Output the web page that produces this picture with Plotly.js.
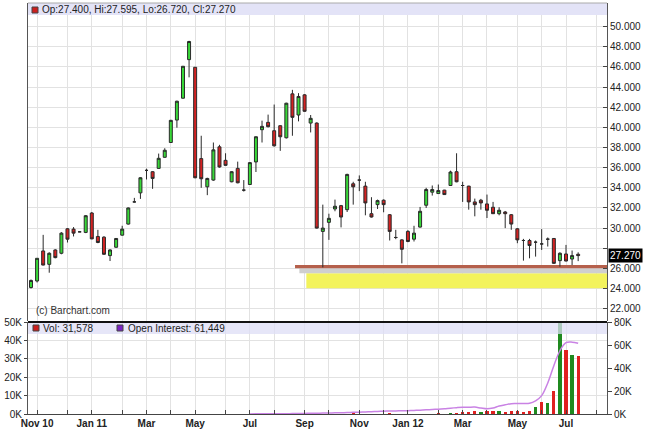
<!DOCTYPE html>
<html><head><meta charset="utf-8">
<script src="https://cdn.plot.ly/plotly-3.0.1.min.js"></script>
<style>html,body{margin:0;padding:0;background:#fff;}#chart{width:645px;height:431px;}</style>
</head><body><div id="chart"></div>
<script>
const dates = [
'2010-10-25','2010-11-01','2010-11-08','2010-11-15','2010-11-22','2010-11-29','2010-12-06','2010-12-13','2010-12-20','2010-12-27',
'2011-01-03','2011-01-10','2011-01-17','2011-01-24','2011-01-31','2011-02-07','2011-02-14','2011-02-21','2011-02-28','2011-03-07',
'2011-03-14','2011-03-21','2011-03-28','2011-04-04','2011-04-11','2011-04-18','2011-04-25','2011-05-02','2011-05-09','2011-05-16',
'2011-05-23','2011-05-30','2011-06-06','2011-06-13','2011-06-20','2011-06-27','2011-07-04','2011-07-11','2011-07-18','2011-07-25',
'2011-08-01','2011-08-08','2011-08-15','2011-08-22','2011-08-29','2011-09-05','2011-09-12','2011-09-19','2011-09-26','2011-10-03',
'2011-10-10','2011-10-17','2011-10-24','2011-10-31','2011-11-07','2011-11-14','2011-11-21','2011-11-28','2011-12-05','2011-12-12',
'2011-12-19','2011-12-26','2012-01-02','2012-01-09','2012-01-16','2012-01-23','2012-01-30','2012-02-06','2012-02-13','2012-02-20',
'2012-02-27','2012-03-05','2012-03-12','2012-03-19','2012-03-26','2012-04-02','2012-04-09','2012-04-16','2012-04-23','2012-04-30',
'2012-05-07','2012-05-14','2012-05-21','2012-05-28','2012-06-04','2012-06-11','2012-06-18','2012-06-25','2012-07-02','2012-07-09',
'2012-07-16'];
const openP = [
24.1,24.75,27.73,26.4,27.83,27.5,29.93,29.9,29.63,29.57,
31.5,29.17,29.1,27.27,28.1,29.3,30.4,32.6,33.5,35.73,
35.6,35.93,37.03,38.5,40.73,42.9,46.73,45.97,36.9,34.1,
34.77,38.07,36.73,34.6,35.93,33.77,34.33,36.57,39.77,40.5,
39.67,40.17,38.97,43.33,41.23,43.23,40.43,40.43,29.67,30.57,
31.9,32.23,31.83,34.4,34.77,34.17,31.43,32.33,32.77,31.33,
29.07,28.83,29.67,28.9,30.1,32.27,33.57,33.43,33.77,34.23,
35.6,34.23,34.17,32.6,32.77,32.4,32.07,31.43,31.6,31.33,
29.93,28.77,28.77,28.6,28.43,28.9,28.97,26.77,27.43,26.93,
27.40];
const highP = [
24.9,27.0,29.33,27.6,27.9,29.6,30.0,30.1,29.7,31.3,
31.6,29.83,29.2,27.9,29.0,30.23,32.05,33.0,35.05,35.9,
35.65,37.4,37.93,40.75,42.65,46.1,48.6,46.0,39.17,35.0,
38.5,38.27,37.43,35.65,36.6,34.77,36.55,39.1,40.67,41.27,
42.27,40.2,42.45,43.73,43.4,43.3,41.23,40.5,32.33,31.43,
32.83,32.3,35.4,34.6,35.23,34.6,33.07,32.83,32.85,31.4,
29.83,28.9,29.8,30.23,32.1,34.0,34.23,34.33,33.8,35.7,
37.43,34.6,34.2,32.93,32.9,33.33,32.6,32.07,31.7,31.4,
30.0,28.93,28.93,28.77,29.9,29.07,29.0,27.6,28.33,27.77,
27.595];
const lowP = [
24.0,24.6,26.3,25.57,27.0,27.4,28.57,29.17,29.6,29.5,
28.9,28.5,27.35,26.73,28.05,29.25,30.35,32.55,32.9,34.83,
33.9,35.9,37.0,38.45,39.97,42.85,44.97,34.95,34.0,33.27,
34.7,36.0,36.2,34.55,34.45,33.63,34.3,35.57,38.5,40.0,
38.1,37.67,38.9,39.17,40.6,41.55,39.5,29.95,26.1,28.83,
31.67,30.07,31.6,32.33,33.67,31.27,31.05,31.9,31.57,28.77,
28.9,26.5,28.6,28.67,30.05,32.0,33.23,33.4,33.3,34.2,
34.55,32.6,31.83,31.17,31.83,31.0,31.4,31.27,30.0,29.83,
28.5,26.77,27.0,27.17,27.83,28.17,26.45,26.17,26.7,26.33,
26.72];
const closeP = [
24.8,27.0,26.33,27.5,27.07,29.5,28.9,29.5,29.63,31.23,
28.93,28.57,27.4,27.83,28.97,29.9,32.0,32.6,35.0,35.73,
34.93,36.93,37.73,40.7,42.6,46.07,48.53,35.0,34.9,34.93,
37.77,36.07,36.23,35.6,34.5,33.77,36.5,39.07,40.1,40.07,
38.17,39.07,42.4,41.0,43.07,41.6,40.9,30.0,30.0,30.97,
32.17,31.1,35.33,34.1,34.77,32.5,31.1,32.73,32.33,29.67,
29.07,27.9,28.67,29.5,31.67,33.83,33.83,33.73,33.33,35.57,
34.6,34.23,32.6,32.33,32.5,31.77,31.43,31.77,31.43,30.4,
28.83,28.77,28.27,28.6,28.43,28.9,26.5,27.5,26.73,27.27,
27.27];
const volume = [
0,0,0,0,0,0,0,0,0,0,
0,0,0,0,0,0,0,0,0,0,
0,0,0,0,0,0,0,0,0,0,
0,0,0,0,0,0,0,0,0,0,
0,0,0,0,0,0,0,0,0,0,
0,0,0,600,0,0,0,0,0,400,
0,0,0,0,0,0,0,500,0,600,
800,1000,1300,1800,1200,1500,1600,1800,1300,1800,
1500,1200,1500,4000,6700,6200,12500,58000,34900,31800,
31578];
const volUp = [
0,0,0,0,0,0,0,0,0,0,
0,0,0,0,0,0,0,0,0,0,
0,0,0,0,0,0,0,0,0,0,
0,0,0,0,0,0,0,0,0,0,
0,0,0,0,0,0,0,0,0,0,
0,0,0,0,0,0,0,0,0,0,
0,0,0,0,0,0,0,0,0,1,
0,0,0,0,1,0,0,1,0,0,
0,0,0,1,0,1,0,1,0,1,
0];
const openInterest = [
null,null,null,null,null,null,null,null,null,null,
null,null,null,null,null,null,null,null,null,null,
null,null,null,null,null,null,null,null,null,null,
null,null,null,null,null,null,100,120,150,180,
200,250,300,350,400,500,600,700,800,900,
1000,1100,1300,1500,1600,1800,2000,2200,2400,2600,
2700,2800,2900,3100,3300,3600,3900,4200,4600,5100,
5500,5800,5900,6000,5200,4500,5200,7000,8000,9000,
9100,9100,9300,11500,16000,27000,42000,55000,62000,62500,
61449];
const monthTicks = ['2010-11-01','2010-12-06','2011-01-03','2011-02-07','2011-03-07','2011-04-04','2011-05-02','2011-06-06','2011-07-04','2011-08-01','2011-09-05','2011-10-03','2011-11-07','2011-12-05','2012-01-02','2012-02-06','2012-03-05','2012-04-02','2012-05-07','2012-06-04','2012-07-02','2012-08-06'];
const monthLabels = ['Nov 10','','Jan 11','','Mar','','May','','Jul','','Sep','','Nov','','Jan 12','','Mar','','May','','Jul',''];
const priceTicks = [22,24,26,28,30,32,34,36,38,40,42,44,46,48,50];
const volTicks = [0,10000,20000,30000,40000,50000];
const oiTicks = [0,20000,40000,60000,80000];
const supportLevel = 26.17, supportStart = '2011-08-25';
const zoneTop = 25.51, zoneBottom = 24.02, zoneStart = '2011-09-07';

const W=645,H=431,L=28,R=38,T=3,B=17;
const PW=W-L-R, PH=H-T-B;
const px = x => (x-L)/PW, py = y => (H-B-y)/PH;
const FONT = 'Liberation Sans, Arial, sans-serif';
const last = dates.length-1;
const xEnd = '2012-08-18 05:00';
const fmtK = v => (v/1000)+'K';
const comma = v => v.toLocaleString('en-US');

const traces = [
 {type:'candlestick', x:dates, open:openP, high:highP, low:lowP, close:closeP,
  xaxis:'x', yaxis:'y', whiskerwidth:0, hoverinfo:'skip', showlegend:false,
  increasing:{line:{color:'#2a2a2a',width:1}, fillcolor:'#38d838'},
  decreasing:{line:{color:'#2a2a2a',width:1}, fillcolor:'#d42222'}},
 {type:'bar', x:dates, y:volume, xaxis:'x', yaxis:'y2', width:3.8*86400000,
  marker:{color:volUp.map(u=>u?'#1f8a1f':'#e02020'), line:{width:0}}, hoverinfo:'skip', showlegend:false},
 {type:'scatter', mode:'lines', x:dates, y:openInterest, xaxis:'x', yaxis:'y3',
  line:{color:'#c982e4', width:1.5, shape:'spline'}, hoverinfo:'skip', showlegend:false, connectgaps:false}
];

const layout = {
 width:W, height:H, margin:{l:L,r:R,t:T,b:B}, paper_bgcolor:'#fff', plot_bgcolor:'#fff',
 font:{family:FONT, size:10, color:'#222'}, showlegend:false, bargap:0,
 xaxis:{type:'date', range:['2010-10-21 13:00', xEnd], anchor:'y2',
   tickmode:'array', tickvals:monthTicks, ticktext:monthLabels,
   ticks:'inside', ticklen:4, tickcolor:'#444', showgrid:true, gridcolor:'#e2e2e2',
   showline:true, linecolor:'#444', linewidth:1, rangeslider:{visible:false},
   tickfont:{family:FONT,size:10,color:'#222',weight:'bold'}, fixedrange:true},
 yaxis:{domain:[(H-B-321)/PH,1], range:[20.775,52.353], side:'right', anchor:'x',
   tickmode:'array', tickvals:priceTicks, ticktext:priceTicks.map(v=>v===28?'':v.toFixed(3)),
   ticks:'inside', ticklen:4, tickcolor:'#444', showline:true, mirror:true, linecolor:'#555',
   gridcolor:'#e2e2e2', zeroline:false, tickfont:{family:FONT,size:10,color:'#222'}, fixedrange:true},
 yaxis2:{domain:[0,(H-B-322)/PH], range:[0,50000], side:'left', anchor:'x',
   tickmode:'array', tickvals:volTicks, ticktext:volTicks.map(fmtK),
   ticks:'outside', ticklen:3, tickcolor:'#444', showline:true, linecolor:'#555',
   gridcolor:'#e2e2e2', zeroline:false, tickfont:{family:FONT,size:10,color:'#222'}, fixedrange:true},
 yaxis3:{overlaying:'y2', range:[0,80000], side:'right', anchor:'x',
   tickmode:'array', tickvals:oiTicks, ticktext:oiTicks.map(fmtK),
   ticks:'outside', ticklen:4, tickcolor:'#444', showline:true, linecolor:'#555',
   showgrid:false, zeroline:false, tickfont:{family:FONT,size:10,color:'#222'}, fixedrange:true},
 shapes:[
  {type:'rect', xref:'paper', yref:'y domain', x0:0, x1:1, y0:1-12/318, y1:1, fillcolor:'#e3e3f7', line:{width:0}, layer:'above'},
  {type:'rect', xref:'x', yref:'y', x0:zoneStart, x1:xEnd, y0:zoneBottom, y1:zoneTop, fillcolor:'#f3f35c', line:{width:0}, layer:'between'},
  {type:'rect', xref:'x', yref:'y', x0:'2011-08-30', x1:xEnd, y0:zoneTop, y1:supportLevel-0.16, fillcolor:'#cfcfcf', line:{width:0}, layer:'between'},
  {type:'line', xref:'x', yref:'y', x0:supportStart, x1:xEnd, y0:supportLevel, y1:supportLevel, line:{color:'#b5604c', width:3.3}, layer:'between'},
  {type:'rect', xref:'paper', yref:'y2 domain', x0:0, x1:1, y0:1-12/92, y1:1, fillcolor:'rgba(222,222,246,0.75)', line:{width:0}, layer:'above'},
  {type:'line', xref:'paper', yref:'paper', x0:0, x1:1, y0:py(322), y1:py(322), line:{color:'#111', width:2}, layer:'above'},
  {type:'line', xref:'paper', yref:'paper', x0:0, x1:1, y0:1, y1:1, line:{color:'#aaa', width:1}, layer:'above'},
  {type:'rect', xref:'paper', yref:'paper', x0:px(32), x1:px(38), y0:py(13), y1:py(7), fillcolor:'#cc1f1f', line:{color:'#444', width:1}, layer:'above'},
  {type:'rect', xref:'paper', yref:'paper', x0:px(33), x1:px(39), y0:py(331), y1:py(325), fillcolor:'#cc1f1f', line:{color:'#444', width:1}, layer:'above'},
  {type:'rect', xref:'paper', yref:'paper', x0:px(117), x1:px(123), y0:py(331), y1:py(325), fillcolor:'#7a22c4', line:{color:'#444', width:1}, layer:'above'}
 ],
 annotations:[
  {xref:'paper', yref:'paper', x:px(40), y:py(9.5), xanchor:'left', yanchor:'middle', showarrow:false,
   text:'Op:'+openP[last].toFixed(3)+', Hi:'+highP[last].toFixed(3)+', Lo:'+lowP[last].toFixed(3)+', Cl:'+closeP[last].toFixed(3),
   font:{family:FONT,size:10,color:'#222'}},
  {xref:'paper', yref:'paper', x:px(41), y:py(328), xanchor:'left', yanchor:'middle', showarrow:false,
   text:'Vol: '+comma(volume[last]), font:{family:FONT,size:10,color:'#222'}},
  {xref:'paper', yref:'paper', x:px(126), y:py(328), xanchor:'left', yanchor:'middle', showarrow:false,
   text:'Open Interest: '+comma(openInterest[last]), font:{family:FONT,size:10,color:'#222'}},
  {xref:'paper', yref:'paper', x:px(34), y:py(310), xanchor:'left', yanchor:'middle', showarrow:false,
   text:'(c) Barchart.com', font:{family:FONT,size:10,color:'#333'}},
  {xref:'paper', yref:'y', x:1, y:closeP[last], xanchor:'left', yanchor:'middle', xshift:1, showarrow:false,
   text:closeP[last].toFixed(3), bgcolor:'#000', borderpad:1, font:{family:FONT,size:10,color:'#fff'}}
 ]
};
Plotly.newPlot('chart', traces, layout, {staticPlot:true, displayModeBar:false});
</script></body></html>
